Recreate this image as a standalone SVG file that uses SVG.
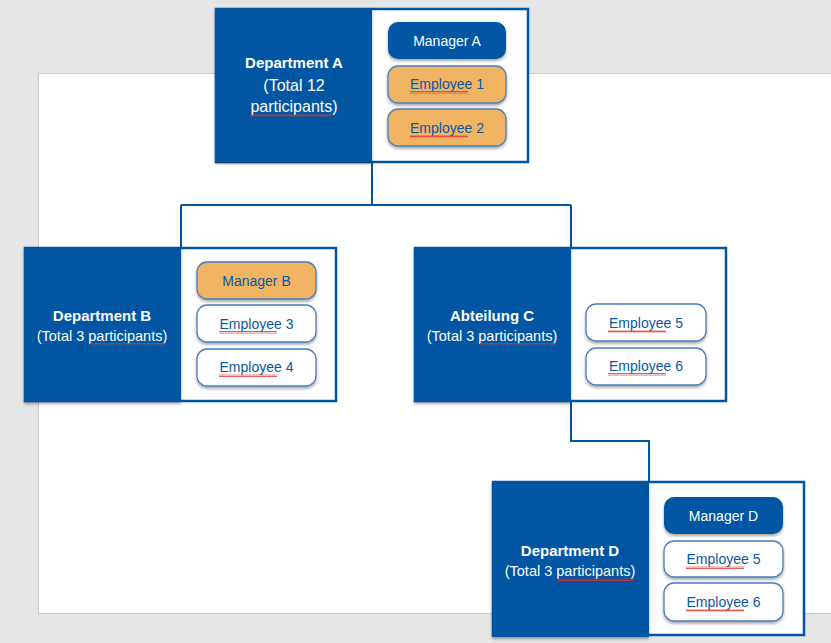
<svg xmlns="http://www.w3.org/2000/svg" width="831" height="643" viewBox="0 0 831 643">
<style>
.dept{fill:#0156a3}
.frame{fill:#fff;stroke:#0156a3;stroke-width:2.5}
.pill{stroke:#4a7ebb;stroke-width:1.3}
.mgr{fill:#0156a3;stroke:none}
.org{fill:#f0b462}
.wht{fill:#fff}
.h{font-family:"Liberation Sans",Arial,sans-serif;font-size:15px;font-weight:bold;fill:#fff;text-anchor:middle}
.s{font-family:"Liberation Sans",Arial,sans-serif;font-size:14.5px;fill:#fff;text-anchor:middle}
.t{font-family:"Liberation Sans",Arial,sans-serif;font-size:14px;fill:#0b57a0;text-anchor:middle}
.tw{font-family:"Liberation Sans",Arial,sans-serif;font-size:14px;fill:#fff;text-anchor:middle}
.conn{fill:none;stroke:#0156a3;stroke-width:2}
.wv{fill:url(#wavy)}
</style>
<defs>
<filter id="sh" x="-10%" y="-10%" width="130%" height="130%">
<feDropShadow dx="0" dy="2" stdDeviation="1.5" flood-color="#000" flood-opacity="0.35"/>
</filter>
<pattern id="wavy" width="4" height="3" patternUnits="userSpaceOnUse">
<path d="M0,2.5 L1,0.5 L2,2.5 L3,0.5 L4,2.5" fill="none" stroke="#e03030" stroke-width="0.8"/>
</pattern>
</defs>
<rect x="0" y="0" width="831" height="643" fill="#e6e6e6"/>
<rect x="38.5" y="73.5" width="800" height="540" fill="#fff" stroke="#c8c8c8" stroke-width="1"/>

<g id="connectors">
<path class="conn" d="M372,162 V205 M181,205 H571 M181,205 V247 M571,205 V247"/>
<path class="conn" d="M571,401 V441 H649 V481"/>
</g>

<g id="deptA">
<rect class="frame" x="216" y="9" width="312" height="153"/>
<rect class="dept" x="215" y="8" width="157" height="154" filter="url(#sh)"/>
<text class="h" x="294" y="68">Department A</text>
<text class="s" x="294" y="91" style="font-size:16px">(Total 12</text>
<text class="s" x="294" y="112" style="font-size:16px">participants)</text>
<rect class="wv" x="250" y="114" width="81" height="3"/>
<g id="managerA"><rect class="pill mgr" x="388" y="22" width="118" height="37" rx="10" filter="url(#sh)"/><text class="tw" x="447" y="46">Manager A</text></g>
<g id="employee1"><rect class="pill org" x="388" y="66" width="118" height="37" rx="10" filter="url(#sh)"/><text class="t" x="447" y="89">Employee 1</text><rect class="wv" x="410" y="91" width="58" height="3"/></g>
<g id="employee2"><rect class="pill org" x="388" y="109" width="118" height="37" rx="10" filter="url(#sh)"/><text class="t" x="447" y="133">Employee 2</text><rect class="wv" x="410" y="135" width="58" height="3"/></g>
</g>

<g id="deptB">
<rect class="frame" x="25" y="248" width="311" height="153"/>
<rect class="dept" x="24" y="247" width="157" height="155" filter="url(#sh)"/>
<text class="h" x="102" y="321">Department B</text>
<text class="s" x="102" y="341">(Total 3 participants)</text>
<rect class="wv" x="90" y="343" width="76" height="3"/>
<g id="managerB"><rect class="pill org" x="197" y="262" width="119" height="37" rx="10" filter="url(#sh)"/><text class="t" x="256.5" y="286">Manager B</text></g>
<g id="employee3"><rect class="pill wht" x="197" y="305" width="119" height="37" rx="10" filter="url(#sh)"/><text class="t" x="256.5" y="329">Employee 3</text><rect class="wv" x="219" y="331" width="58" height="3"/></g>
<g id="employee4"><rect class="pill wht" x="197" y="349" width="119" height="37" rx="10" filter="url(#sh)"/><text class="t" x="256.5" y="372">Employee 4</text><rect class="wv" x="219" y="374" width="58" height="3"/></g>
</g>

<g id="deptC">
<rect class="frame" x="415" y="248" width="311" height="153"/>
<rect class="dept" x="414" y="247" width="157" height="155" filter="url(#sh)"/>
<text class="h" x="492" y="321">Abteilung C</text>
<text class="s" x="492" y="341">(Total 3 participants)</text>
<rect class="wv" x="480" y="343" width="76" height="3"/>
<g id="employee5c"><rect class="pill wht" x="586" y="304" width="120" height="37" rx="10" filter="url(#sh)"/><text class="t" x="646" y="328">Employee 5</text><rect class="wv" x="608" y="330" width="58" height="3"/></g>
<g id="employee6c"><rect class="pill wht" x="586" y="348" width="120" height="37" rx="10" filter="url(#sh)"/><text class="t" x="646" y="371">Employee 6</text><rect class="wv" x="608" y="373" width="58" height="3"/></g>
</g>

<g id="deptD">
<rect class="frame" x="493" y="482" width="311" height="153"/>
<rect class="dept" x="492" y="481" width="157" height="156" filter="url(#sh)"/>
<text class="h" x="570" y="556">Department D</text>
<text class="s" x="570" y="576">(Total 3 participants)</text>
<rect class="wv" x="558" y="578" width="76" height="3"/>
<g id="managerD"><rect class="pill mgr" x="664" y="497" width="119" height="37" rx="10" filter="url(#sh)"/><text class="tw" x="723.5" y="521">Manager D</text></g>
<g id="employee5d"><rect class="pill wht" x="664" y="541" width="119" height="36" rx="10" filter="url(#sh)"/><text class="t" x="723.5" y="564">Employee 5</text><rect class="wv" x="686" y="566" width="58" height="3"/></g>
<g id="employee6d"><rect class="pill wht" x="664" y="583" width="119" height="38" rx="10" filter="url(#sh)"/><text class="t" x="723.5" y="607">Employee 6</text><rect class="wv" x="686" y="609" width="58" height="3"/></g>
</g>
</svg>
